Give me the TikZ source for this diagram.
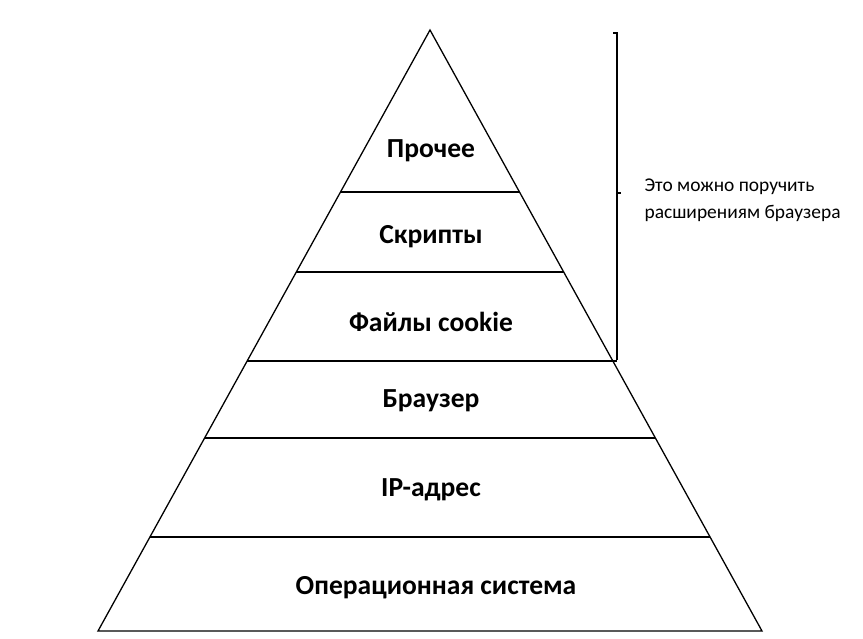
\documentclass[tikz,border=0pt]{standalone}
\usepackage{fontspec}
\setmainfont{Carlito}
\usetikzlibrary{positioning,calc}

\begin{document}
\begin{tikzpicture}[x=0.03cm, y=-0.03cm, line width=1.1pt,
    layer/.style={font=\bfseries\fontsize{23.5}{28}\selectfont},
    note/.style={font=\fontsize{16.6}{23}\selectfont, align=left, anchor=west}]
        \useasboundingbox (0,0) rectangle (863,638);
        \coordinate (top) at (430,30);
        \coordinate (bl) at (98,631);
        \coordinate (br) at (762,631);
        \draw (bl) -- (top) -- (br) -- cycle;
        % dividers
        \foreach \t in {0.2696,0.4027,0.6789,0.8436} {
          \draw ($(top)!\t!(bl)$) -- ($(top)!\t!(br)$);
        }
        \coordinate (c1) at ($(top)!0.5507!(bl)$);
        \coordinate (brtop) at (617,33);
        \coordinate (brmid) at (617,193);
        \coordinate (brbot) at (617,360);
        \draw (c1) -- (c1 -| brbot);
        % bracket
        \draw (613,33) -- (brtop) -- (brbot);
        \draw (brmid) -- ++(4,0);
        \node[note] (txt) at (640,200) {Это можно поручить\\расширениям браузера};
        \node[layer] (l6) at (431,151) {Прочее};
        \node[layer] (l5) at (431,237) {Скрипты};
        \node[layer] (l4) at (431,322) {Файлы cookie};
        \node[layer] (l3) at (431,401) {Браузер};
        \node[layer] (l2) at (431,490) {IP-адрес};
        \node[layer] (l1) at (436,588) {Операционная система};
      \end{tikzpicture}
\end{document}
